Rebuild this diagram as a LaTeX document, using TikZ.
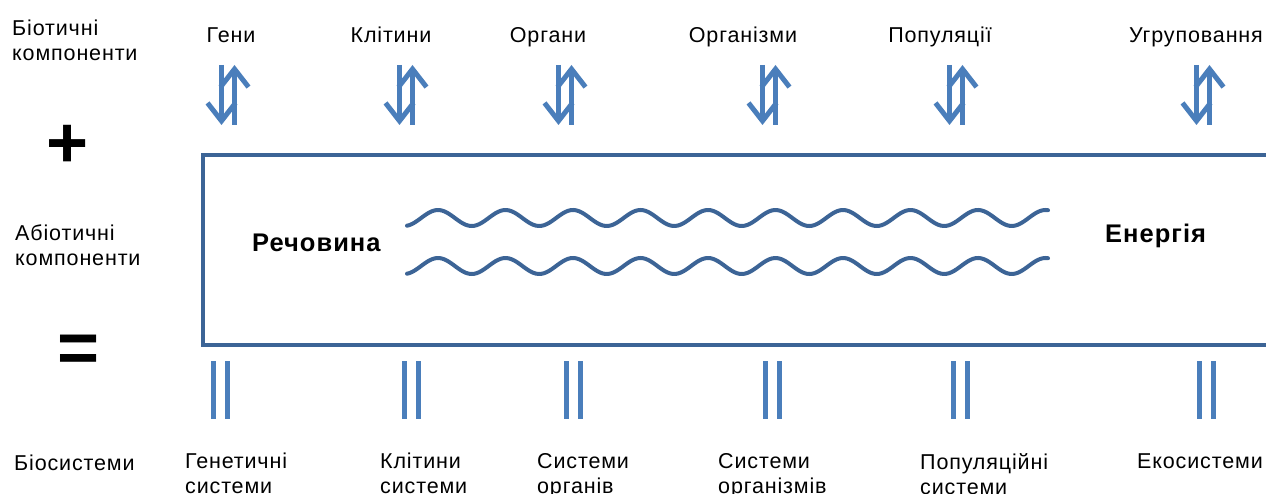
\documentclass[tikz,border=0pt]{standalone}
\usepackage{fontspec}
\setmainfont{Liberation Sans}[LetterSpace=4]
\usetikzlibrary{arrows.meta}
\definecolor{boxblue}{HTML}{3C6496}
\definecolor{arrowblue}{HTML}{4A7EBB}
\begin{document}
\begin{tikzpicture}[x=1pt, y=-1pt,
    txt/.style={font=\fontsize{21.5}{25}\selectfont, inner sep=0pt, align=left},
    bigtxt/.style={font=\bfseries\fontsize{25.5}{28}\selectfont, inner sep=0pt},
    signtxt/.style={font=\bfseries\fontsize{72}{72}\selectfont, inner sep=0pt},
    boxframe/.style={draw=boxblue, line width=4pt},
    wave/.style={draw=boxblue, line width=4pt, line cap=round},
    flowarrow/.style={draw=arrowblue, line width=5pt, -{Straight Barb[length=18pt, width=28pt]}},
    bar/.style={draw=arrowblue, line width=5pt}
]
    \useasboundingbox (0,0) rectangle (1266,494);

    % Left column
    \node[txt, anchor=north west] (biotic) at (12,20) {Біотичні\\компоненти};
    \node[signtxt] (plus) at (68,146) {+};
    \node[txt, anchor=north west] (abiotic) at (15,225) {Абіотичні\\компоненти};
    \node[signtxt] (equal) at (79,354) {=};
    \node[txt, anchor=base west] (biosys) at (14,470) {Біосистеми};

    % Top labels
    \node[txt, anchor=base] (genes) at (231,43) {Гени};
    \node[txt, anchor=base] (cells) at (391,43) {Клітини};
    \node[txt, anchor=base] (organs) at (548,43) {Органи};
    \node[txt, anchor=base] (organisms) at (743,43) {Організми};
    \node[txt, anchor=base] (populations) at (940,43) {Популяції};
    \node[txt, anchor=base] (communities) at (1196,43) {Угруповання};

    % Up and down arrows
    \foreach \cx in {228,406,565,769,956,1203} {
        \draw[flowarrow] (\cx-6.5,65) -- (\cx-6.5,125);
        \draw[flowarrow] (\cx+6.5,125) -- (\cx+6.5,65);
    }

    % Box
    \draw[boxframe] (1280,155) -- (203,155) -- (203,345) -- (1280,345);

    % Waves
    \foreach \wy in {218,266}
        \draw[wave] plot[domain=407:1048, samples=240, smooth] (\x, {\wy - 8*cos(5.3333*(\x-438))});

    \node[bigtxt, anchor=base west] (matter) at (252,252) {Речовина};
    \node[bigtxt, anchor=base west] (energy) at (1105,243) {Енергія};

    % Equals bars
    \foreach \bx in {220,411,573,772,960,1206} {
        \draw[bar] (\bx-7,361) -- (\bx-7,419);
        \draw[bar] (\bx+7,361) -- (\bx+7,419);
    }

    % Bottom labels
    \node[txt, anchor=north west] (genesys) at (185,453) {Генетичні\\системи};
    \node[txt, anchor=north west] (cellsys) at (380,453) {Клітини\\системи};
    \node[txt, anchor=north west] (organsys) at (537,453) {Системи\\органів};
    \node[txt, anchor=north west] (orgsys) at (718,453) {Системи\\організмів};
    \node[txt, anchor=north west] (popsys) at (920,453) {Популяційні\\системи};
    \node[txt, anchor=base west] (ecosys) at (1137,468) {Екосистеми};
\end{tikzpicture}
\end{document}
